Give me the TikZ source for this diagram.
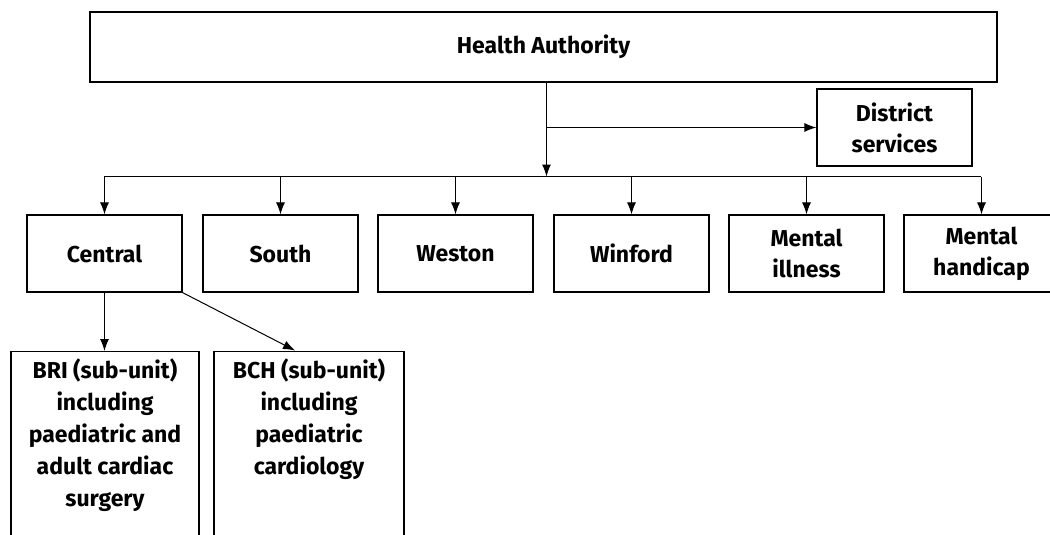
\documentclass[tikz,border=0pt]{standalone}
\usepackage{fontspec}
\setmainfont{Fira Sans}
\usetikzlibrary{arrows.meta}
\begin{document}
\begin{tikzpicture}[x=1pt,y=-1pt,
  box/.style={draw,line width=1.2pt,rectangle,inner sep=0pt,align=center,
    font=\fontsize{23}{31}\selectfont\bfseries},
  unit/.style={box,minimum width=155pt,minimum height=77pt},
  sub/.style={box,anchor=north,inner sep=0pt,font=\fontsize{23}{32}\selectfont\bfseries},
  link/.style={line width=1pt,-{Latex[length=12pt,width=9pt]}},
  wire/.style={line width=1pt}]
\useasboundingbox (0,0) rectangle (1050,535);

% top level
\node[box,minimum width=907pt,minimum height=70pt] (ha) at (543.5,47) {Health Authority};
\node[box,minimum width=155pt,minimum height=77pt] (ds) at (894.5,127.5) {District\\services};

% districts and units
\node[unit] (central) at (104.5,253.5) {Central};
\node[unit] (south)   at (280.5,253.5) {South};
\node[unit] (weston)  at (455.5,253.5) {Weston};
\node[unit] (winford) at (631.5,253.5) {Winford};
\node[unit] (mi)      at (806.5,253.5) {Mental\\illness};
\node[unit] (mh)      at (981.5,253.5) {Mental\\handicap};

% sub-units of Central (running past the page foot)
\node[sub] (bri) at (105,351) {\parbox[t][200pt][t]{188pt}{\centering\vspace{7pt}BRI (sub-unit)\\including\\paediatric and\\adult cardiac\\surgery}};
\node[sub] (bch) at (309,351) {\parbox[t][200pt][t]{190pt}{\centering\vspace{7pt}BCH (sub-unit)\\including\\paediatric\\cardiology}};

% connectors
\coordinate (bus) at (546.5,176.5);
\coordinate (busL) at (104,176.5);
\coordinate (busR) at (980.5,176.5);
\coordinate (tee) at (546.5,127.5);
\draw[link] (ha.south -| bus) -- (bus);
\draw[link] (tee) -- (ds.west |- tee);
\draw[wire] (busL) -- (busR);
\foreach \n in {central,south,weston,winford,mi,mh}
  \draw[link] (busL -| \n.north) -- (\n.north);
\draw[link] (central.south) -- (bri.north -| central.south);
\draw[link] (central.south east) -- (295,350.5);
\end{tikzpicture}
\end{document}
